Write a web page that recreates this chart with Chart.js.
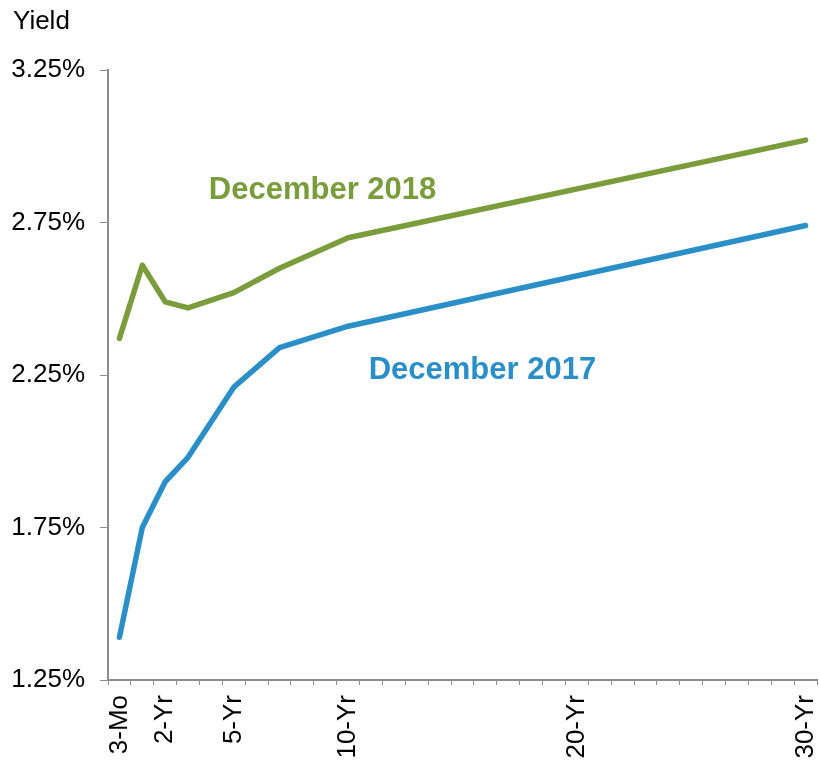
<!DOCTYPE html>
<html>
<head>
<meta charset="utf-8">
<script src="https://cdn.jsdelivr.net/npm/chart.js@4.4.1/dist/chart.umd.min.js"></script>
<style>
  html, body { margin: 0; padding: 0; background: #fff; }
</style>
</head>
<body>
<canvas id="chart" width="819" height="760"></canvas>
<script>
// maturities in years, 3-Mo sits at position 0 like the original axis
const maturities = [0, 1, 2, 3, 5, 7, 10, 30];
const yields2018 = [2.37, 2.61, 2.49, 2.47, 2.52, 2.60, 2.70, 3.02];
const yields2017 = [1.39, 1.75, 1.90, 1.98, 2.21, 2.34, 2.41, 2.74];

const xTickValues = [0, 2, 5, 10, 20, 30];
const xTickNames = ["3-Mo", "2-Yr", "5-Yr", "10-Yr", "20-Yr", "30-Yr"];
const yTicks = [1.25, 1.75, 2.25, 2.75, 3.25];

const GREEN = "#7a9c3b";
const BLUE = "#2a8fc6";
const AXIS = "#8c8c8c";
const FONT = "'Liberation Sans', Arial, sans-serif";

Chart.defaults.font.family = FONT;
Chart.defaults.color = "#000";

// "Yield" title and the two series labels
const textLabels = {
  id: "textLabels",
  afterDraw(chart) {
    const { ctx, scales: { x, y } } = chart;
    ctx.save();
    ctx.textBaseline = "alphabetic";
    ctx.fillStyle = "#000";
    ctx.font = "26px " + FONT;
    ctx.textAlign = "left";
    ctx.fillText("Yield", 13, 29);

    ctx.font = "bold 31px " + FONT;
    ctx.textAlign = "center";
    ctx.fillStyle = GREEN;
    ctx.fillText("December 2018", x.getPixelForValue(8.88), y.getPixelForValue(2.826));
    ctx.fillStyle = BLUE;
    ctx.fillText("December 2017", x.getPixelForValue(15.87), y.getPixelForValue(2.236));
    ctx.restore();
  },
};

const toPoints = (vals) => maturities.map((m, i) => ({ x: m, y: vals[i] }));

const lineStyle = {
  borderWidth: 5.5,
  pointRadius: 0,
  tension: 0,
  borderCapStyle: "round",
  borderJoinStyle: "round",
  fill: false,
};

new Chart(document.getElementById("chart"), {
  type: "line",
  data: {
    datasets: [
      { label: "December 2018", data: toPoints(yields2018), borderColor: GREEN, ...lineStyle },
      { label: "December 2017", data: toPoints(yields2017), borderColor: BLUE, ...lineStyle },
    ],
  },
  options: {
    responsive: false,
    animation: false,
    layout: { padding: { top: 70, left: 10, right: 2, bottom: 0 } },
    plugins: {
      legend: { display: false },
      tooltip: { enabled: false },
    },
    scales: {
      x: {
        type: "linear",
        min: -0.5,
        max: 30.5,
        afterBuildTicks: (scale) => {
          const t = [];
          for (let v = 0; v <= 30; v++) t.push({ value: v });
          scale.ticks = t;
        },
        afterFit: (scale) => {
          scale.height = 80;
          scale.paddingLeft = 0;
          scale.paddingRight = 0;
        },
        border: { color: AXIS, width: 2 },
        grid: {
          offset: true,
          drawOnChartArea: false,
          drawTicks: true,
          tickLength: 5,
          color: AXIS,
          lineWidth: 1,
        },
        ticks: {
          autoSkip: false,
          minRotation: 90,
          maxRotation: 90,
          padding: 10,
          font: { size: 26 },
          color: "#000",
          callback: (value) => {
            const i = xTickValues.indexOf(value);
            return i >= 0 ? xTickNames[i] : "";
          },
        },
      },
      y: {
        min: 1.25,
        max: 3.25,
        afterBuildTicks: (scale) => {
          scale.ticks = yTicks.map((v) => ({ value: v }));
        },
        afterFit: (scale) => {
          scale.width = 98;
        },
        border: { color: AXIS, width: 2 },
        grid: {
          drawOnChartArea: false,
          drawTicks: true,
          tickLength: 8,
          color: AXIS,
          lineWidth: 1,
        },
        ticks: {
          padding: 15,
          font: { size: 26 },
          color: "#000",
          callback: (value) => value.toFixed(2) + "%",
        },
      },
    },
  },
  plugins: [textLabels],
});
</script>
</body>
</html>
